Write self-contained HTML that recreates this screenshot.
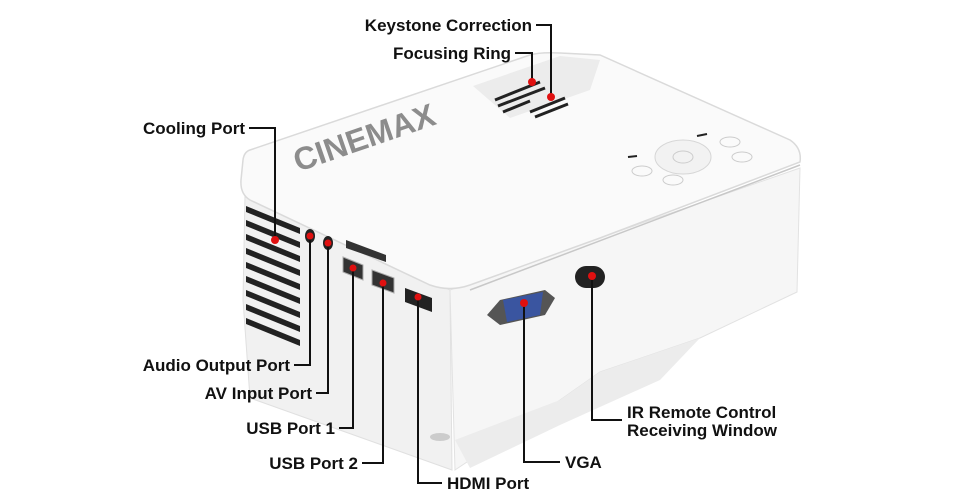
<!DOCTYPE html>
<html><head><meta charset="utf-8"><style>
html,body{margin:0;padding:0;background:#fff;width:960px;height:494px;overflow:hidden}
svg{display:block}
text{font-family:"Liberation Sans",sans-serif;font-weight:bold;font-size:17px;fill:#111}
</style></head><body>
<svg width="960" height="494" viewBox="0 0 960 494" xmlns="http://www.w3.org/2000/svg">
<polygon points="245,195 450,290 452,470 250,398 243,300" fill="#f1f1f1" stroke="#e0e0e0"/>
<polygon points="450,290 800,168 797,292 700,338 600,372 560,400 455,470" fill="#f6f6f6" stroke="#e2e2e2"/>
<polygon points="455,440 560,400 600,372 700,338 660,380 560,425 470,468" fill="#ececec"/>
<path d="M250,150 L530,55 Q540,52 560,53 L600,55 L790,140 Q802,148 800,162 L600,238 L470,285 Q450,292 430,285 L250,200 Q240,194 241,180 L243,160 Q244,152 250,150 Z" fill="#fafafa" stroke="#dadada" stroke-width="1.5"/>
<path d="M800,165 L470,290" stroke="#c8c8c8" stroke-width="1.5"/>
<polygon points="473,86 560,56 600,60 590,90 510,118" fill="#ececec"/>
<g stroke="#222" stroke-width="3">
<line x1="495" y1="100" x2="540" y2="82"/><line x1="498" y1="106" x2="545" y2="88"/><line x1="503" y1="112" x2="530" y2="101"/>
<line x1="530" y1="112" x2="565" y2="98"/><line x1="535" y1="117" x2="568" y2="104"/>
</g>
<text x="298" y="172" transform="rotate(-19 298 172)" style="font-size:32px;fill:#8c8c8c;font-weight:900">CINEMAX</text>
<ellipse cx="683" cy="157" rx="28" ry="17" fill="#f2f2f2" stroke="#d6d6d6"/>
<ellipse cx="683" cy="157" rx="10" ry="6" fill="none" stroke="#ccc"/>
<ellipse cx="642" cy="171" rx="10" ry="5" fill="none" stroke="#ccc"/>
<ellipse cx="673" cy="180" rx="10" ry="5" fill="none" stroke="#ccc"/>
<ellipse cx="730" cy="142" rx="10" ry="5" fill="none" stroke="#ccc"/>
<ellipse cx="742" cy="157" rx="10" ry="5" fill="none" stroke="#ccc"/>
<line x1="628" y1="157" x2="637" y2="156" stroke="#222" stroke-width="2"/>
<line x1="697" y1="136" x2="707" y2="134" stroke="#222" stroke-width="2"/>
<g fill="#222">
<polygon points="246,206 300,228 300,234 246,212"/><polygon points="246,220 300,242 300,248 246,226"/>
<polygon points="246,234 300,256 300,262 246,240"/><polygon points="246,248 300,270 300,276 246,254"/>
<polygon points="246,262 300,284 300,290 246,268"/><polygon points="246,276 300,298 300,304 246,282"/>
<polygon points="246,290 300,312 300,318 246,296"/><polygon points="246,304 300,326 300,332 246,310"/>
<polygon points="246,318 300,340 300,346 246,324"/>
</g>
<ellipse cx="310" cy="236" rx="5" ry="7" fill="#222"/>
<ellipse cx="328" cy="243" rx="5" ry="7" fill="#222"/>
<polygon points="346,240 386,255 386,262 346,248" fill="#333"/>
<polygon points="343,257 363,265 363,280 343,272" fill="#333" stroke="#aaa"/>
<polygon points="372,270 394,278 394,293 372,285" fill="#333" stroke="#aaa"/>
<polygon points="405,288 432,298 432,312 405,302" fill="#222"/>
<polygon points="487,315 500,300 545,290 555,298 545,315 500,325" fill="#555"/>
<polygon points="503,300 543,292 540,315 507,322" fill="#3a55a0"/>
<rect x="575" y="266" width="30" height="22" rx="11" fill="#222"/>
<ellipse cx="440" cy="437" rx="10" ry="4" fill="#ccc"/>
<g stroke="#111" stroke-width="2" fill="none">
<polyline points="536,25 551,25 551,97"/>
<polyline points="515,53 532,53 532,82"/>
<polyline points="249,128 275,128 275,240"/>
<polyline points="294,365 310,365 310,236"/>
<polyline points="316,393 328,393 328,243"/>
<polyline points="339,428 353,428 353,268"/>
<polyline points="362,463 383,463 383,283"/>
<polyline points="442,483 418,483 418,297"/>
<polyline points="560,462 524,462 524,303"/>
<polyline points="622,420 592,420 592,276"/>
</g>
<g fill="#e01010">
<circle cx="551" cy="97" r="4"/><circle cx="532" cy="82" r="4"/><circle cx="275" cy="240" r="4"/>
<circle cx="310" cy="236" r="3.5"/><circle cx="328" cy="243" r="3.5"/><circle cx="353" cy="268" r="3.5"/>
<circle cx="383" cy="283" r="3.5"/><circle cx="418" cy="297" r="3.5"/><circle cx="524" cy="303" r="4"/>
<circle cx="592" cy="276" r="4"/>
</g>
<text x="532" y="31" text-anchor="end">Keystone Correction</text>
<text x="511" y="59" text-anchor="end">Focusing Ring</text>
<text x="245" y="134" text-anchor="end">Cooling Port</text>
<text x="290" y="371" text-anchor="end">Audio Output Port</text>
<text x="312" y="399" text-anchor="end">AV Input Port</text>
<text x="335" y="434" text-anchor="end">USB Port 1</text>
<text x="358" y="469" text-anchor="end">USB Port 2</text>
<text x="447" y="489">HDMI Port</text>
<text x="565" y="468">VGA</text>
<text x="627" y="418">IR Remote Control</text>
<text x="627" y="436">Receiving Window</text>
</svg>
</body></html>
